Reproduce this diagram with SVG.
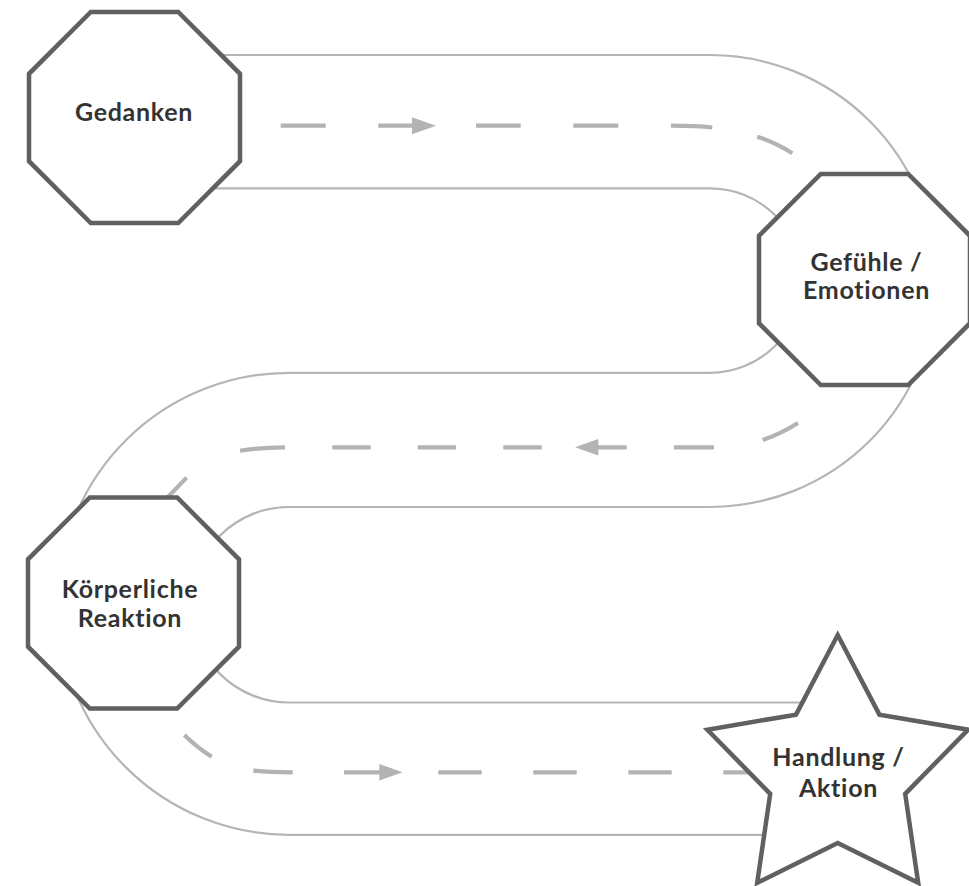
<svg xmlns="http://www.w3.org/2000/svg" width="969" height="886" viewBox="0 0 969 886">
<style>
.road{fill:none;stroke:#b5b5b8;stroke-width:2.2}
.dash{fill:none;stroke:#b3b3b6;stroke-width:4.2;stroke-linecap:butt}
.head{fill:#b3b3b6;stroke:none}
.shape{fill:#ffffff;stroke:#606060;stroke-width:4.5;stroke-linejoin:miter}
.lbl{font-family:Lato,"Open Sans","Liberation Sans",sans-serif;font-weight:700;font-size:25px;letter-spacing:0.7px;fill:#333333;text-anchor:middle;font-variant-ligatures:none;font-feature-settings:"liga" 0}
</style>
<rect width="969" height="886" fill="#ffffff"/>
<g id="connectors">
  <path class="road" d="M200,55 H710 A226,226 0 0 1 710,507 H289 A97.75,97.75 0 0 0 289,702.5 H820"/>
  <path class="road" d="M200,188.3 H710 A92.25,92.25 0 0 1 710,372.8 H289 A231,231 0 0 0 289,834.8 H780"/>
  <!-- top road -->
  <path class="dash" d="M280.7,125.7 H325.7 M378.3,125.7 H414 M476,125.7 H520.7 M573.3,125.7 H618.3 M671,125.7 Q697,125.7 712.3,127.5 M757.3,136.7 A160,160 0 0 1 792.3,153.3"/>
  <polygon class="head" points="412,117.2 436,125.7 412,134.2"/>
  <!-- middle road -->
  <path class="dash" d="M798,423 A165,165 0 0 1 762.7,440 M714,447.3 H674 M626.7,447.3 H596 M541.7,447.3 H503.3 M456,447.3 H417.7 M370.7,447.3 H332.3 M285,447.3 Q261,447.3 240,450.7 M186.6,477.6 L166,499"/>
  <polygon class="head" points="598.3,439.1 575,447.3 598.3,455.5"/>
  <!-- lower road -->
  <path class="dash" d="M184.3,735 A165,165 0 0 0 211.7,756.7 M253.3,770.6 Q270,772.3 292.7,772.3 M344,772.3 H381 M438.3,772.3 H481.7 M533.3,772.3 H576.7 M628.3,772.3 H671.7 M723.3,772.3 H766.7"/>
  <polygon class="head" points="379.3,764.1 402.7,772.3 379.3,780.5"/>
</g>
<g id="node-gedanken">
  <polygon class="shape" points="90.8,12 178.2,12 240,73.8 240,161.2 178.2,223 90.8,223 29,161.2 29,73.8"/>
  <text class="lbl" x="134" y="120.7">Gedanken</text>
</g>
<g id="node-gefuehle">
  <polygon class="shape" points="820.8,174 908.2,174 970,235.8 970,323.2 908.2,385 820.8,385 759,323.2 759,235.8"/>
  <text class="lbl" x="866.5" y="270.7">Gefühle /</text>
  <text class="lbl" x="866.5" y="299.3">Emotionen</text>
</g>
<g id="node-koerper">
  <polygon class="shape" points="89.8,497.5 177.2,497.5 239,559.3 239,646.7 177.2,708.5 89.8,708.5 28,646.7 28,559.3"/>
  <text class="lbl" x="130" y="597.7">Körperliche</text>
  <text class="lbl" x="130" y="626.7">Reaktion</text>
</g>
<g id="node-handlung">
  <polygon class="shape" points="837.7,635 879.4,714.6 968,729.7 905.2,793.9 918.2,882.8 837.7,843 757.2,882.8 770.2,793.9 707.4,729.7 796,714.6"/>
  <text class="lbl" x="838.5" y="766">Handlung /</text>
  <text class="lbl" x="838.5" y="796.7">Aktion</text>
</g>
</svg>
